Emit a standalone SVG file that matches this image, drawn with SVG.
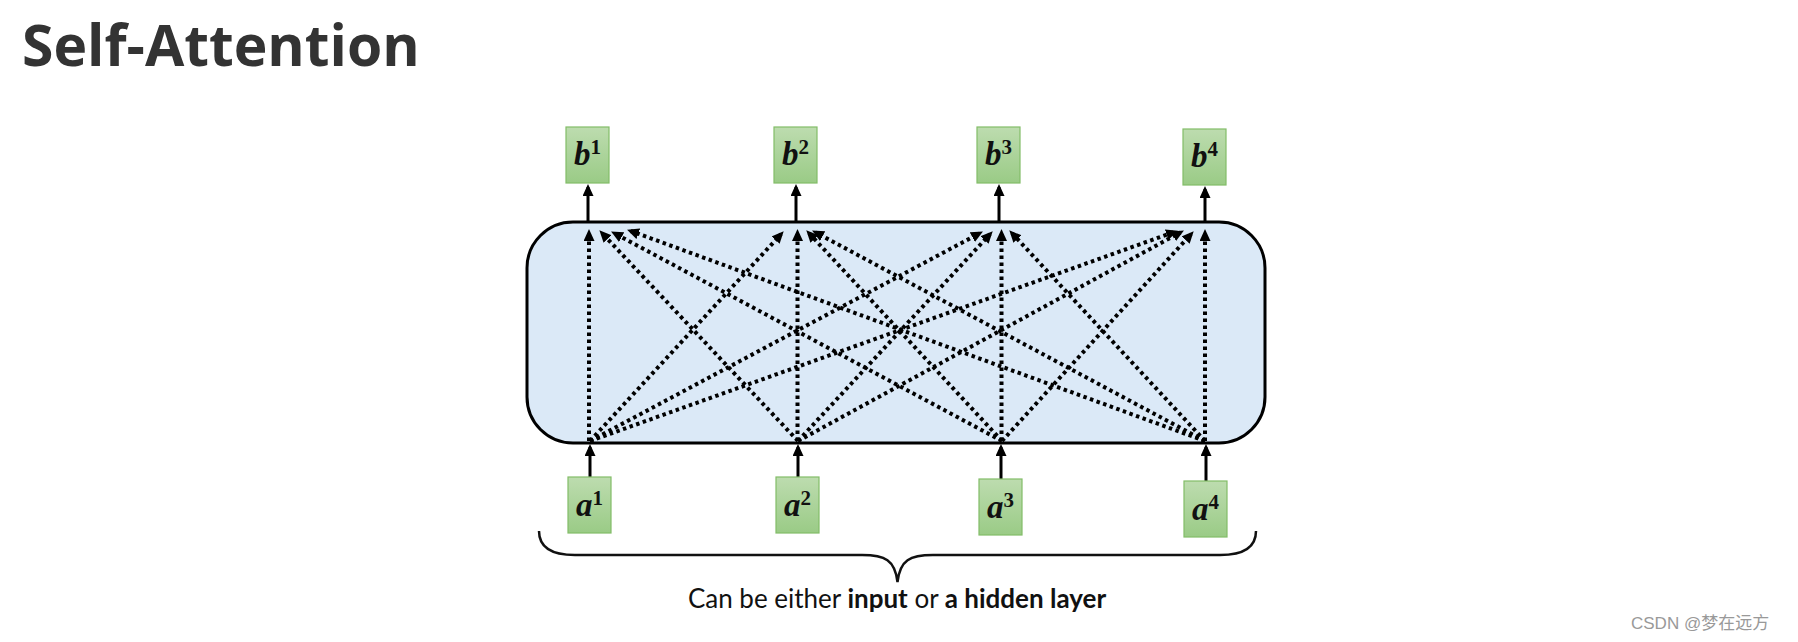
<svg xmlns="http://www.w3.org/2000/svg" width="1798" height="642" viewBox="0 0 1798 642">
  <defs>
    <linearGradient id="gbox" x1="0" y1="0" x2="0" y2="1">
      <stop offset="0" stop-color="#bddcaf"/>
      <stop offset="1" stop-color="#9acb86"/>
    </linearGradient>
    <marker id="dothead" viewBox="0 0 12 11" refX="8" refY="5.5" markerWidth="12" markerHeight="11" markerUnits="userSpaceOnUse" orient="auto">
      <path d="M0,0 L12,5.5 L0,11 z" fill="#000"/>
    </marker>
    <marker id="solidhead" viewBox="0 0 12 11" refX="9" refY="5.5" markerWidth="12" markerHeight="11" markerUnits="userSpaceOnUse" orient="auto">
      <path d="M0,0 L12,5.5 L0,11 z" fill="#000"/>
    </marker>
  </defs>
  <style>
    .box { fill: url(#gbox); stroke: #82bd68; stroke-width: 1.2; }
    .lbl { font-family: "Liberation Serif", "DejaVu Serif", serif; font-weight: bold; font-style: italic; font-size: 33px; fill: #111; }
    .sup { font-style: normal; font-size: 21px; }
    .dot { fill: none; stroke: #000; stroke-width: 4; stroke-dasharray: 3.5 3.5; marker-end: url(#dothead); }
    .solid { fill: none; stroke: #000; stroke-width: 3; marker-end: url(#solidhead); }
  </style>
  <rect width="1798" height="642" fill="#fff"/>

  <text id="title" x="22" y="66" font-family="'Open Sans', 'DejaVu Sans', sans-serif" font-weight="bold" font-size="57" fill="#333">Self-Attention</text>

  <g id="attention-layer">
    <rect x="527" y="222" width="738" height="221" rx="46" ry="46" fill="#dbe9f7" stroke="#000" stroke-width="3"/>
  </g>

  <g id="connectors">
    <!-- to b1 -->
    <path class="dot" d="M589,441 L589,233"/>
    <path class="dot" d="M798,441 L602.1,233.2"/>
    <path class="dot" d="M1002,441 L614.6,233.4"/>
    <path class="dot" d="M1205,441 L630.8,231"/>
    <!-- to b2 -->
    <path class="dot" d="M590,441 L781,234.2"/>
    <path class="dot" d="M797.5,441 L797.5,233"/>
    <path class="dot" d="M1002,441 L809,233.2"/>
    <path class="dot" d="M1205,441 L815.6,232.4"/>
    <!-- to b3 -->
    <path class="dot" d="M590,441 L979.4,233.4"/>
    <path class="dot" d="M798,441 L990,234.2"/>
    <path class="dot" d="M1001.5,441 L1001.5,233"/>
    <path class="dot" d="M1205,441 L1012,233.2"/>
    <!-- to b4 -->
    <path class="dot" d="M590,441 L1174.2,232"/>
    <path class="dot" d="M798,441 L1180.4,232.4"/>
    <path class="dot" d="M1002,441 L1191,234.2"/>
    <path class="dot" d="M1205,441 L1205,233"/>
    <!-- outputs -->
    <path class="solid" d="M588,221 L588,187"/>
    <path class="solid" d="M796,221 L796,187"/>
    <path class="solid" d="M999,221 L999,187"/>
    <path class="solid" d="M1205,221 L1205,189"/>
    <!-- inputs -->
    <path class="solid" d="M590,477 L590,447"/>
    <path class="solid" d="M798,477 L798,447"/>
    <path class="solid" d="M1001,479 L1001,447"/>
    <path class="solid" d="M1206,481 L1206,447"/>
  </g>

  <g id="b1"><rect class="box" x="566" y="127" width="43" height="56"/><text class="lbl" x="587.5" y="165" text-anchor="middle">b<tspan class="sup" dy="-11">1</tspan></text></g>
  <g id="b2"><rect class="box" x="774" y="127" width="43" height="56"/><text class="lbl" x="795.5" y="165" text-anchor="middle">b<tspan class="sup" dy="-11">2</tspan></text></g>
  <g id="b3"><rect class="box" x="977" y="127" width="43" height="56"/><text class="lbl" x="998.5" y="165" text-anchor="middle">b<tspan class="sup" dy="-11">3</tspan></text></g>
  <g id="b4"><rect class="box" x="1183" y="129" width="43" height="56"/><text class="lbl" x="1204.5" y="167" text-anchor="middle">b<tspan class="sup" dy="-11">4</tspan></text></g>

  <g id="a1"><rect class="box" x="568" y="477" width="43" height="56"/><text class="lbl" x="589.5" y="516" text-anchor="middle">a<tspan class="sup" dy="-11">1</tspan></text></g>
  <g id="a2"><rect class="box" x="776" y="477" width="43" height="56"/><text class="lbl" x="797.5" y="516" text-anchor="middle">a<tspan class="sup" dy="-11">2</tspan></text></g>
  <g id="a3"><rect class="box" x="979" y="479" width="43" height="56"/><text class="lbl" x="1000.5" y="518" text-anchor="middle">a<tspan class="sup" dy="-11">3</tspan></text></g>
  <g id="a4"><rect class="box" x="1184" y="481" width="43" height="56"/><text class="lbl" x="1205.5" y="520" text-anchor="middle">a<tspan class="sup" dy="-11">4</tspan></text></g>

  <g id="brace">
    <path d="M539,531 C539,546 550,555 575,555 L862,555 C885,555 895,560 897.5,582 C900,560 910,555 933,555 L1220,555 C1245,555 1256,546 1256,531" fill="none" stroke="#111" stroke-width="2.5"/>
    <text x="897" y="608" text-anchor="middle" font-family="Lato, 'Liberation Sans', sans-serif" font-size="26" fill="#111">Can be either <tspan font-weight="bold">input</tspan> or <tspan font-weight="bold">a hidden layer</tspan></text>
  </g>

  <text id="watermark" x="1631" y="629" font-family="'Liberation Sans', 'Noto Sans CJK SC', sans-serif" font-size="17" fill="#999">CSDN @梦在远方</text>
</svg>
